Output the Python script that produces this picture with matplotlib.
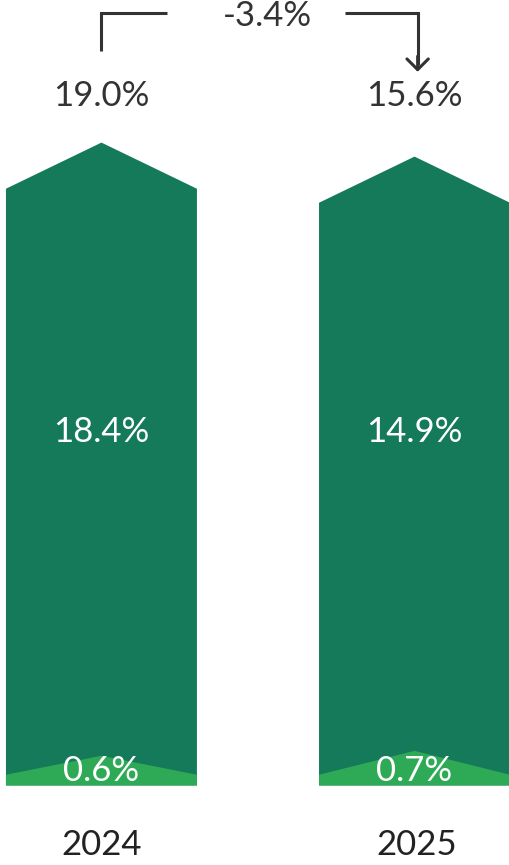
import matplotlib
matplotlib.use('Agg')
import matplotlib.pyplot as plt
from matplotlib.patches import Polygon

plt.rcParams['font.family'] = ['Lato', 'DejaVu Sans']

# data
years = ['2024', '2025']
totals = [19.0, 15.6]        # 总计
main_part = [18.4, 14.9]     # 深绿部分
small_part = [0.6, 0.7]      # 浅绿部分
change_label = '-3.4%'

# style
dark = '#157a59'
light = '#2eaa57'
txt = '#333333'
floor = -137.0     # bars start below zero (offset baseline)
head = 11.2        # arrow head height, in y units
small_gain = 12.0  # visual height of the light chevron per %
width = 0.61
fs = 25

fig = plt.figure(figsize=(5.1, 8.65), dpi=100)
ax = fig.add_axes([0, 0, 1, 1])
ax.set_xlim(-0.324, 1.305)
ax.set_ylim(-156.3, 53.6)
ax.axis('off')
tr = ax.get_xaxis_transform()

for i, (tot, mp, sp) in enumerate(zip(totals, main_part, small_part)):
    l, r = i - width / 2, i + width / 2
    dark_poly = [(l, floor), (l, tot - head), (i, tot), (r, tot - head), (r, floor)]
    ax.add_patch(Polygon(dark_poly, closed=True, facecolor=dark, edgecolor='none'))
    peak = floor + sp * small_gain
    light_poly = [(l, floor), (l, floor + 2.6), (i, peak), (r, floor + 2.6), (r, floor)]
    ax.add_patch(Polygon(light_poly, closed=True, facecolor=light, edgecolor='none'))

    ax.text(i, 0.889, f'{tot:.1f}%', transform=tr, ha='center', va='center',
            fontsize=fs, color=txt)
    ax.text(i, 0.5, f'{mp:.1f}%', transform=tr, ha='center', va='center',
            fontsize=fs, color='white')
    ax.text(i, floor + 3.6, f'{sp:.1f}%', ha='center', va='center',
            fontsize=fs, color='white')
    ax.text(i + 0.008 * i, 0.023, years[i], transform=tr, ha='center', va='center',
            fontsize=fs, color='#222222')

# bracket with change
ax.plot([0, 0, 0.209], [0.941, 0.985, 0.985], transform=tr, color=txt, lw=2.2,
        solid_joinstyle='miter', solid_capstyle='butt', clip_on=False)
ax.plot([0.778, 1.01, 1.01], [0.985, 0.985, 0.925], transform=tr, color=txt, lw=2.2,
        solid_joinstyle='miter', solid_capstyle='butt', clip_on=False)
ax.annotate('', xy=(1.01, 0.917), xytext=(1.01, 0.935), xycoords=tr, textcoords=tr,
            arrowprops=dict(arrowstyle='->,head_length=0.55,head_width=0.55',
                            color=txt, lw=2.2, mutation_scale=14,
                            shrinkA=0, shrinkB=0))
ax.text(0.53, 0.981, change_label, transform=tr, ha='center', va='center',
        fontsize=fs, color=txt)

fig.savefig('out.png', dpi=100)
